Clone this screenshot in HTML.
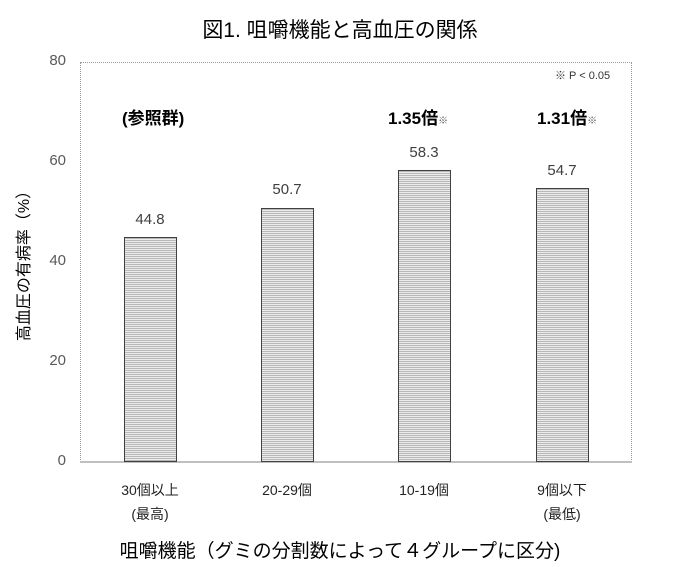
<!DOCTYPE html>
<html><head><meta charset="utf-8"><style>
body{margin:0;background:#fff;width:680px;height:567px;overflow:hidden;position:relative;font-family:"Liberation Sans","Noto Sans CJK JP",sans-serif;}
.a{position:absolute;white-space:nowrap;}
.bar{position:absolute;border:1px solid #404040;box-sizing:border-box;background:repeating-linear-gradient(to bottom,#b8b8b8 0,#b8b8b8 1px,#ececec 1px,#ececec 2px);}
.yl{position:absolute;width:30px;text-align:right;font-size:15px;color:#595959;}
.v{position:absolute;width:80px;text-align:center;font-size:15px;color:#404040;}
.xl{position:absolute;width:120px;text-align:center;font-size:14px;color:#222;line-height:24px;}
.bold{position:absolute;font-size:17px;font-weight:bold;color:#000;}
</style></head><body>
<div class="a" style="left:0;width:680px;text-align:center;top:14px;font-size:21px;color:#000;">図1. 咀嚼機能と高血圧の関係</div>
<div class="a" style="left:80px;top:62px;width:552px;height:400px;border:1px dotted #999;box-sizing:border-box;"></div>
<div class="a" style="left:80px;top:461px;width:552px;height:2px;background:#bfbfbf;"></div>
<div class="yl" style="left:36px;top:52px;">80</div>
<div class="yl" style="left:36px;top:152px;">60</div>
<div class="yl" style="left:36px;top:252px;">40</div>
<div class="yl" style="left:36px;top:352px;">20</div>
<div class="yl" style="left:36px;top:452px;">0</div>
<div class="a" style="left:17px;top:262px;font-size:16px;transform:translate(-50%,-50%) rotate(-90deg);transform-origin:center;left:22px;">高血圧の有病率（%）</div>
<div class="bar" style="left:124px;top:237px;width:53px;height:225px;"></div>
<div class="bar" style="left:261px;top:208px;width:53px;height:254px;"></div>
<div class="bar" style="left:398px;top:170px;width:53px;height:292px;"></div>
<div class="bar" style="left:536px;top:188px;width:53px;height:274px;"></div>
<div class="v" style="left:110px;top:211px;">44.8</div>
<div class="v" style="left:247px;top:181px;">50.7</div>
<div class="v" style="left:384px;top:144px;">58.3</div>
<div class="v" style="left:522px;top:162px;">54.7</div>
<div class="bold" style="left:122px;top:104px;">(参照群)</div>
<div class="bold" style="left:388px;top:104px;">1.35倍<span style="font-size:10px;font-weight:normal;color:#555">※</span></div>
<div class="bold" style="left:537px;top:104px;">1.31倍<span style="font-size:10px;font-weight:normal;color:#555">※</span></div>
<div class="a" style="left:555px;top:67px;font-size:11px;color:#333;">※ P &lt; 0.05</div>
<div class="xl" style="left:90px;top:478px;">30個以上<br>(最高)</div>
<div class="xl" style="left:227px;top:478px;">20-29個</div>
<div class="xl" style="left:364px;top:478px;">10-19個</div>
<div class="xl" style="left:502px;top:478px;">9個以下<br>(最低)</div>
<div class="a" style="left:0;width:680px;text-align:center;top:536px;font-size:19px;">咀嚼機能（グミの分割数によって４グループに区分)</div>
</body></html>
